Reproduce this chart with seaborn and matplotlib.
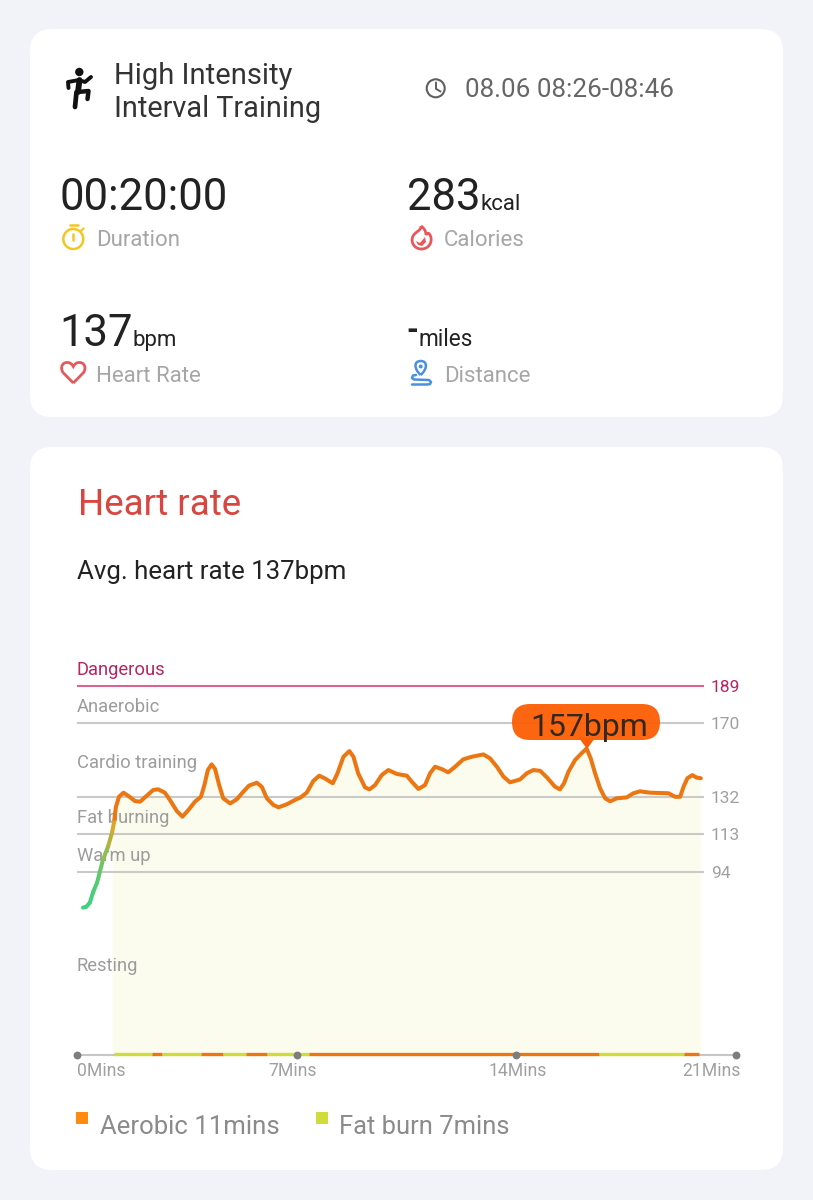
import matplotlib
matplotlib.use('Agg')
import matplotlib.pyplot as plt
import seaborn as sns
import numpy as np
from matplotlib.patches import FancyBboxPatch, Circle, PathPatch, Polygon
from matplotlib.path import Path
from matplotlib.transforms import ScaledTranslation

# heart rate curve
minutes = [0.19, 0.30, 0.41, 0.52, 0.64, 0.73, 0.83, 0.99, 1.12, 1.18, 1.24, 1.34, 1.48, 1.63, 1.85, 2.01,
           2.22, 2.43, 2.59, 2.80, 2.96, 3.18, 3.36, 3.55, 3.76, 3.95, 4.06, 4.17, 4.29, 4.40, 4.53, 4.66,
           4.88, 5.09, 5.30, 5.48, 5.73, 5.89, 6.05, 6.26, 6.42, 6.68, 7.00, 7.11, 7.32, 7.53, 7.72, 7.90,
           8.15, 8.30, 8.49, 8.68, 8.81, 8.96, 9.18, 9.32, 9.50, 9.71, 9.92, 10.19, 10.51, 10.67, 10.88, 11.09,
           11.25, 11.41, 11.62, 11.83, 12.05, 12.31, 12.58, 12.95, 13.16, 13.38, 13.59, 13.80, 14.12, 14.33, 14.54, 14.76,
           14.97, 15.23, 15.39, 15.52, 15.66, 15.87, 16.08, 16.24, 16.37, 16.51, 16.67, 16.83, 16.99, 17.20, 17.52, 17.73,
           17.94, 18.26, 18.85, 19.06, 19.22, 19.33, 19.45, 19.61, 19.75, 19.88]
bpm = [75.5, 76.0, 78.1, 83.7, 88.3, 94.0, 100.2, 106.7, 114.2, 119.3, 127.2, 132.3, 134.4, 132.8, 130.1, 129.8,
       132.8, 135.8, 136.1, 134.4, 130.7, 125.0, 122.1, 125.5, 129.8, 132.3, 138.3, 146.0, 148.9, 146.5, 138.3, 131.5,
       128.9, 131.0, 134.9, 138.0, 139.5, 137.4, 131.5, 128.1, 126.9, 128.4, 131.1, 131.8, 134.4, 140.4, 143.1, 141.7,
       139.2, 144.3, 152.8, 155.7, 152.8, 144.3, 137.1, 136.1, 138.3, 143.4, 146.0, 144.0, 143.1, 140.0, 136.3, 138.3,
       144.3, 147.7, 146.5, 144.8, 147.7, 151.5, 152.8, 154.0, 152.0, 147.7, 142.6, 139.7, 141.2, 144.3, 146.0, 145.6,
       142.3, 137.5, 136.1, 139.2, 145.1, 151.1, 154.6, 157.0, 152.0, 144.3, 136.6, 131.5, 130.0, 131.5, 132.0, 134.1,
       135.1, 134.4, 134.1, 132.3, 132.3, 137.5, 141.8, 143.4, 142.1, 141.8]

# zone thresholds
zone_limits = [189, 170, 132, 113, 94]
zone_names = ['Resting', 'Warm up', 'Fat burning', 'Cardio training', 'Anaerobic', 'Dangerous']
band_edges = [0, 94, 113, 132, 170, 189, 208]

# strip along the time axis
strip_starts = [1.17, 2.38, 2.70, 3.95, 4.65, 5.38, 6.05, 7.38, 16.63, 19.33]
strip_ends = [2.38, 2.70, 3.95, 4.65, 5.38, 6.05, 7.38, 16.63, 19.33, 19.82]
strip_kinds = ['fat', 'aero', 'fat', 'aero', 'fat', 'aero', 'fat', 'aero', 'fat', 'aero']

time_ticks = [0, 7, 14, 21]
time_labels = ['0Mins', '7Mins', '14Mins', '21Mins']

sns.set_theme(style='white')
plt.rcParams['font.family'] = ['Roboto', 'DejaVu Sans']

ORANGE = '#ec7612'
YELLOW = '#cfdc3a'
GREY = '#a6a6a6'
GRID = '#c9c9c9'
PINK = '#b8245f'

fig = plt.figure(figsize=(8.13, 12), dpi=100, facecolor='#f2f3f8')

# full page axes in pixels, for the cards and the icons
bg = fig.add_axes([0, 0, 1, 1], zorder=0)
bg.set_xlim(0, 813)
bg.set_ylim(1200, 0)
bg.axis('off')


def card(x0, y0, x1, y1, r=22):
    bg.add_patch(FancyBboxPatch((x0 + r, y0 + r), x1 - x0 - 2 * r, y1 - y0 - 2 * r,
                                boxstyle='round,pad=%d,rounding_size=%d' % (r, r),
                                fc='white', ec='none'))


def txt(x, y, s, size, color, **kw):
    bg.text(x, y, s, fontsize=size, color=color, va='baseline', **kw)


def stroke(xs, ys, color, lw):
    bg.plot(xs, ys, color=color, lw=lw, solid_capstyle='round', solid_joinstyle='round')


card(30, 29, 783, 417)
card(30, 447, 783, 1170)

# top card texts
txt(114, 84, 'High Intensity', 21, '#333333')
txt(114, 117, 'Interval Training', 20.8, '#333333')
txt(465, 97, '08.06 08:26-08:46', 18.7, '#666666')
txt(59, 210, '00:20:00', 31.4, '#222222')
txt(407, 210, '283', 31.4, '#222222')
txt(480, 210, 'kcal', 16, '#222222')
txt(59, 346, '137', 31.4, '#222222')
txt(132, 346, 'bpm', 16, '#222222')
txt(406, 340, '-', 22, '#222222', fontweight='bold')
txt(418, 346, 'miles', 16.3, '#222222')
txt(96, 246.5, 'Duration', 16, GREY)
txt(444, 246.5, 'Calories', 16, GREY)
txt(96, 381.5, 'Heart Rate', 16, GREY)
txt(444, 381.5, 'Distance', 16, GREY)

# runner
bg.add_patch(Circle((79.3, 72), 4.2, fc='#111111', ec='none'))
stroke([79.5, 78], [80, 92], '#111111', 4.2)
stroke([68.5, 68, 79, 85, 91], [88, 82, 80, 82, 77], '#111111', 2.8)
stroke([78, 88.5, 87.5], [92, 91, 99], '#111111', 3.2)
stroke([76.5, 75], [92, 107], '#111111', 3.4)

# clock
bg.add_patch(Circle((435.7, 88.3), 9, fc='none', ec='#5f5f5f', lw=1.5))
stroke([436, 436, 440.5], [82.5, 88.8, 91.5], '#5f5f5f', 1.4)

# stopwatch
bg.add_patch(Circle((73.3, 239), 10, fc='none', ec='#f5c623', lw=1.8))
stroke([69.5, 77.5], [225, 225], '#f5c623', 1.8)
stroke([73.3, 73.3], [233.5, 239.5], '#f5c623', 1.8)
stroke([81, 83.5], [231, 228.5], '#f5c623', 1.6)

# flame
flame = Path([(421, 226), (421, 231), (416, 231), (413, 236),
              (410, 243), (415, 249), (421.5, 249),
              (428, 249), (433, 243), (430.5, 236),
              (429, 232), (427, 233), (426, 235),
              (426, 231), (424, 228), (421, 226)],
             [Path.MOVETO, Path.CURVE4, Path.CURVE4, Path.CURVE4,
              Path.CURVE4, Path.CURVE4, Path.CURVE4,
              Path.CURVE4, Path.CURVE4, Path.CURVE4,
              Path.CURVE4, Path.CURVE4, Path.CURVE4,
              Path.CURVE4, Path.CURVE4, Path.CURVE4])
bg.add_patch(PathPatch(flame, fc='none', ec='#e8585b', lw=2))
smile = Polygon([(416, 241), (420, 243), (425, 237), (426, 242), (422, 246), (418, 245)], fc='#e8585b', ec='none')
bg.add_patch(smile)

# heart
heart = Path([(73.3, 383), (63, 372.5), (59.5, 367), (63, 362), (67.5, 362.5),
              (70, 362.5), (72, 364), (73.3, 366.5),
              (74.6, 364), (76.6, 362.5), (79, 362.5),
              (83.5, 362), (87, 367), (83.6, 372.5), (73.3, 383)],
             [Path.MOVETO, Path.LINETO, Path.CURVE4, Path.CURVE4, Path.CURVE4,
              Path.CURVE4, Path.CURVE4, Path.CURVE4,
              Path.CURVE4, Path.CURVE4, Path.CURVE4,
              Path.CURVE4, Path.CURVE4, Path.CURVE4, Path.LINETO])
bg.add_patch(PathPatch(heart, fc='none', ec='#e8585b', lw=2))

# distance pin and route
pin = Path([(420.7, 375), (414, 369), (413.5, 361), (420.7, 361), (427.9, 361), (427.4, 369), (420.7, 375)],
           [Path.MOVETO, Path.CURVE4, Path.CURVE4, Path.CURVE4, Path.CURVE4, Path.CURVE4, Path.CURVE4])
bg.add_patch(PathPatch(pin, fc='none', ec='#4a90e2', lw=1.8))
bg.add_patch(Circle((420.7, 366.5), 2, fc='#4a90e2', ec='none'))
stroke([416, 413, 412, 414, 429, 431, 430, 428, 412], [375, 375.5, 378, 379.5, 380, 382, 384, 384.5, 384.5], '#4a90e2', 1.8)

# card 2 headings and legend
txt(78, 515, 'Heart rate', 26.5, '#d9453f')
txt(77, 579, 'Avg. heart rate 137bpm', 18.6, '#222222')
bg.add_patch(plt.Rectangle((76, 1112), 12, 12, fc='#ff8a0d', ec='none'))
bg.add_patch(plt.Rectangle((316, 1112), 12, 12, fc=YELLOW, ec='none'))
txt(100, 1134, 'Aerobic 11mins', 18.5, '#8b8b8b')
txt(339, 1134, 'Fat burn 7mins', 18.4, '#8b8b8b')

# chart axes: 0 bpm on the base line, 1.952 px per bpm
ax = fig.add_axes([77 / 813, (1200 - 1055) / 1200, (736 - 77) / 813, 405 / 1200], zorder=1)
ax.patch.set_alpha(0)
ax.set_xlim(0, 21)
ax.set_ylim(0, 207.5)
sns.despine(ax=ax, left=True, right=True, top=True, bottom=True)

minutes_arr = np.array(minutes)
bpm_arr = np.array(bpm)
ax.fill_between(minutes_arr[8:], 0, bpm_arr[8:], color='#fcfcee', lw=0, zorder=1)

grid_colors = [PINK if v == 189 else GRID for v in zone_limits]
for v in zone_limits:
    ax.plot([0, 19.98], [v, v], color='#d8648f' if v == 189 else GRID, lw=1.5, zorder=2, solid_capstyle='butt')

ax.yaxis.tick_right()
ax.set_yticks(zone_limits)
ax.set_yticklabels(zone_limits, family=['Roboto', 'DejaVu Sans'])
ax.tick_params(axis='y', length=0, pad=-18, labelsize=12.5)
for lab, c in zip(ax.get_yticklabels(), grid_colors):
    lab.set_color(c if c == PINK else '#a0a0a0')

for name, lo, hi in zip(zone_names, band_edges[:-1], band_edges[1:]):
    ax.text(0, (lo + hi) / 2 - 1.3, name, fontsize=13.2, color=PINK if name == 'Dangerous' else '#9c9c9c',
            va='center', ha='left', zorder=3)

# base line, zone strip, time dots
ax.plot([0, 21], [0, 0], color='#c6c6c6', lw=1.5, clip_on=False, zorder=2)
strip_colors = {'fat': YELLOW, 'aero': ORANGE}
for a, b, k in zip(strip_starts, strip_ends, strip_kinds):
    ax.plot([a, b], [0.3, 0.3], color=strip_colors[k], lw=2.4, solid_capstyle='butt', clip_on=False, zorder=3)
sns.scatterplot(x=time_ticks, y=[0] * 4, ax=ax, color='#7d7d7d', s=32, linewidth=0, clip_on=False, zorder=4)

ax.set_xticks(time_ticks)
ax.set_xticklabels(time_labels)
ax.tick_params(axis='x', length=0, pad=5, labelsize=12.7, labelcolor='#a0a0a0')
for lab, ha, dx in zip(ax.get_xticklabels(), ['left', 'center', 'center', 'right'], [0, -3, 1, 3]):
    lab.set_ha(ha)
    lab.set_transform(lab.get_transform() + ScaledTranslation(dx / 72, 0, fig.dpi_scale_trans))
ax.set_xlabel('')
ax.set_ylabel('')

# heart rate line, green at the start then orange
sns.lineplot(x=minutes[9:], y=bpm[9:], ax=ax, color=ORANGE, lw=2.9, sort=False, estimator=None,
             zorder=5, solid_joinstyle='round', solid_capstyle='round')
start_colors = ['#3fd27f', '#3fd27f', '#45d07c', '#4cce76', '#5cc96f', '#6cc566', '#8fbe52', '#b5b23c', '#d9a72a']
for i, c in enumerate(start_colors):
    ax.plot(minutes[i:i + 2], bpm[i:i + 2], color=c, lw=2.9, zorder=5, solid_capstyle='round')

# bubble over the peak
ax.add_patch(FancyBboxPatch((530, 722), 112, 0, boxstyle='round,pad=18,rounding_size=18',
                            fc='#fc5e03', ec='none', alpha=0.95, transform=bg.transData,
                            clip_on=False, zorder=6))
ax.add_patch(Polygon([(579, 738), (595, 738), (587, 749)], fc='#fc5e03', ec='none',
                     transform=bg.transData, clip_on=False, zorder=6))
ax.text(589.5, 735.5, '157bpm', fontsize=23, color='#33281f', ha='center', va='baseline',
        transform=bg.transData, zorder=7)

fig.savefig('out.png', dpi=100, facecolor=fig.get_facecolor())
